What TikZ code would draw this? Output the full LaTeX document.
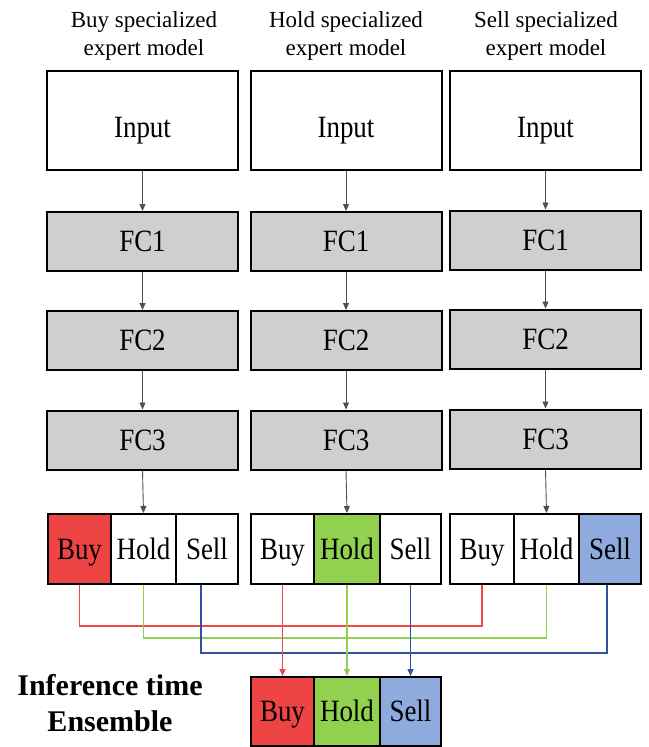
\documentclass[tikz,border=0pt]{standalone}
\usepackage{fontspec}
\setmainfont{Liberation Serif}
\newfontfamily\boxfont[FakeStretch=0.87]{Liberation Serif}
\usetikzlibrary{arrows.meta}
\definecolor{boxgray}{HTML}{D0CECE}
\definecolor{cred}{HTML}{EE4444}
\definecolor{cgreen}{HTML}{92D050}
\definecolor{cblue}{HTML}{8FAADC}
\definecolor{lred}{HTML}{F04848}
\definecolor{lgreen}{HTML}{92D050}
\definecolor{lblue}{HTML}{2E54A1}
\definecolor{arrgray}{HTML}{505050}
\tikzset{
  boxbase/.style={draw=black, line width=2bp, inner sep=0pt, text height=20bp, text depth=0bp,
    font=\boxfont\fontsize{31bp}{36bp}\selectfont},
  inbox/.style={boxbase, fill=white, minimum width=191bp, minimum height=99bp, text height=34bp},
  fcbox/.style={boxbase, fill=boxgray, minimum width=191bp, minimum height=59bp},
  cellbox/.style={boxbase, minimum height=70bp},
  titletext/.style={align=center, inner sep=0pt, font=\fontsize{23bp}{28bp}\selectfont},
  flow/.style={draw=arrgray, line width=0.9bp, -{Triangle[width=6bp,length=7bp]}},
  cline/.style={line width=1.3bp},
  carrow/.style={line width=1.3bp, -{Triangle[width=6bp,length=7bp]}}
}
\begin{document}
\begin{tikzpicture}[x=1bp,y=-1bp]
\useasboundingbox (0,0) rectangle (649,747);
\fill[white] (0,0) rectangle (649,747);

% titles
\node[titletext] (t1) at (144,36) {Buy specialized\\expert model};
\node[titletext] (t2) at (346,36) {Hold specialized\\expert model};
\node[titletext] (t3) at (546,36) {Sell specialized\\expert model};

% input boxes
\node[inbox] (in1) at (142.5,120.5) {Input};
\node[inbox] (in2) at (346,120.5) {Input};
\node[inbox] (in3) at (545.5,120.5) {Input};

% FC layers
\node[fcbox] (fa1) at (142.5,241.5) {FC1};
\node[fcbox] (fb1) at (142.5,340.5) {FC2};
\node[fcbox] (fc1) at (142.5,440) {FC3};
\node[fcbox] (fa2) at (346,241.5) {FC1};
\node[fcbox] (fb2) at (346,340.5) {FC2};
\node[fcbox] (fc2) at (346,440) {FC3};
\node[fcbox] (fa3) at (545.5,240) {FC1};
\node[fcbox] (fb3) at (545.5,339) {FC2};
\node[fcbox] (fc3) at (545.5,439) {FC3};

% output rows
\node[cellbox, fill=cred,  minimum width=63bp] (o1b) at (79.5,549) {Buy};
\node[cellbox, fill=white, minimum width=65bp] (o1h) at (143.5,549) {Hold};
\node[cellbox, fill=white, minimum width=62bp] (o1s) at (207,549) {Sell};
\node[cellbox, fill=white, minimum width=63bp] (o2b) at (282.5,549) {Buy};
\node[cellbox, fill=cgreen, minimum width=66bp] (o2h) at (347,549) {Hold};
\node[cellbox, fill=white, minimum width=61bp] (o2s) at (410.5,549) {Sell};
\node[cellbox, fill=white, minimum width=64bp] (o3b) at (482,549) {Buy};
\node[cellbox, fill=white, minimum width=65bp] (o3h) at (546.5,549) {Hold};
\node[cellbox, fill=cblue, minimum width=62bp] (o3s) at (610,549) {Sell};

% ensemble
\node[cellbox, fill=cred,   minimum width=63bp, minimum height=69bp] (eb) at (282.5,711.5) {Buy};
\node[cellbox, fill=cgreen, minimum width=66bp, minimum height=69bp] (eh) at (347,711.5) {Hold};
\node[cellbox, fill=cblue,  minimum width=61bp, minimum height=69bp] (es) at (410.5,711.5) {Sell};

\node[align=center, inner sep=0pt, font=\fontsize{30bp}{36bp}\selectfont\bfseries] (ens) at (110,703) {Inference time\\Ensemble};

% gray flow arrows
\draw[flow] (in1.south) -- (fa1.north);
\draw[flow] (fa1.south) -- (fb1.north);
\draw[flow] (fb1.south) -- (fc1.north);
\draw[flow] (fc1.south) -- (o1h.north);
\draw[flow] (in2.south) -- (fa2.north);
\draw[flow] (fa2.south) -- (fb2.north);
\draw[flow] (fb2.south) -- (fc2.north);
\draw[flow] (fc2.south) -- (o2h.north);
\draw[flow] (in3.south) -- (fa3.north);
\draw[flow] (fa3.south) -- (fb3.north);
\draw[flow] (fb3.south) -- (fc3.north);
\draw[flow] (fc3.south) -- (o3h.north);

% coloured connectors
\coordinate (yr) at (0,626);
\coordinate (yg) at (0,638);
\coordinate (yb) at (0,653);
\draw[cline, lred] (o1b.south) -- (o1b.south |- yr) -- (o3b.south |- yr) -- (o3b.south);
\draw[cline, lgreen] (o1h.south) -- (o1h.south |- yg) -- (o3h.south |- yg) -- (o3h.south);
\draw[cline, lblue] ([xshift=-6bp]o1s.south) -- ([xshift=-6bp]o1s.south |- yb) -- ([xshift=-3bp]o3s.south |- yb) -- ([xshift=-3bp]o3s.south);
\draw[carrow, lred] (o2b.south) -- (eb.north);
\draw[carrow, lgreen] (o2h.south) -- (eh.north);
\draw[carrow, lblue] (o2s.south) -- (es.north);
\end{tikzpicture}
\end{document}
